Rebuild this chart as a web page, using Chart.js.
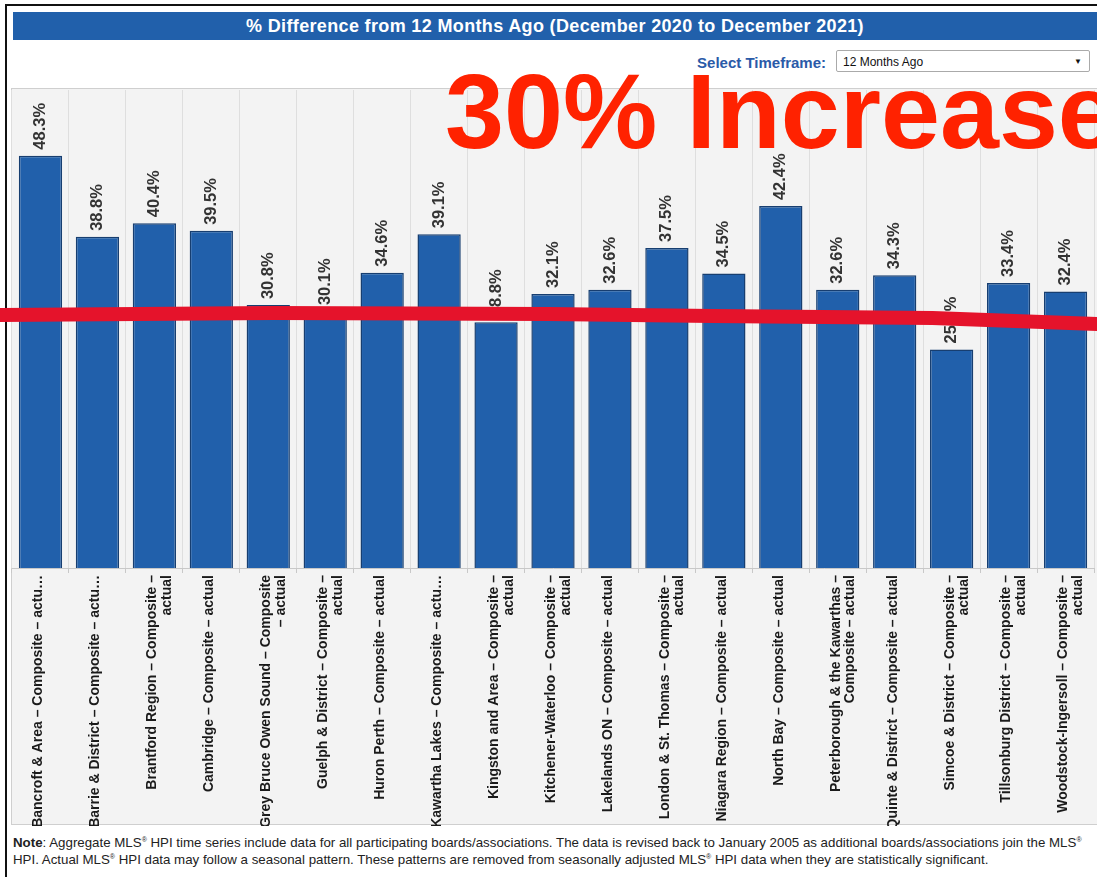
<!DOCTYPE html>
<html lang="en">
<head>
<meta charset="utf-8">
<script src="https://cdn.jsdelivr.net/npm/chart.js@4/dist/chart.umd.min.js"></script>
<style>
    html, body { margin: 0; padding: 0; background: #fff; }
    body { width: 1097px; height: 877px; position: relative; overflow: hidden;
           font-family: "Liberation Sans", Arial, sans-serif; }
    .frame-left { position: absolute; left: 5px; top: 4px; width: 2px; height: 873px; background: #111; }
    .frame-top { position: absolute; left: 5px; top: 4px; width: 1092px; height: 2px; background: #111; }
    .title { position: absolute; left: 13px; top: 12px; width: 1084px; height: 28px; background: #2160ab;
             color: #fff; font-weight: bold; font-size: 18px; letter-spacing: 0.35px; line-height: 28px; text-align: center; }
    .tf-label { position: absolute; left: 640px; top: 54px; width: 186px; text-align: right;
                color: #2a5aa8; font-weight: bold; font-size: 15px; }
    .tf-select { position: absolute; left: 836px; top: 50px; width: 254px; height: 22px; border: 1px solid #aaa;
                 border-radius: 2px; background: #fff; font-size: 12px; line-height: 22px; box-sizing: border-box;
                 padding-left: 6px; color: #111; }
    .tf-select span { position: absolute; right: 7px; top: 0; font-size: 8px; }
    #chart-wrap { position: absolute; left: 0; top: 86px; width: 1097px; height: 740px; }
    .big-note { position: absolute; left: 445px; top: 58px; font-size: 106px; line-height: 1; font-weight: bold;
                color: #ff2200; white-space: nowrap; }
    .note { position: absolute; left: 13px; top: 834px; width: 1084px; font-size: 13.3px; line-height: 17px; color: #222;
            white-space: nowrap; }
    .note sup { font-size: 7px; line-height: 0; vertical-align: 5px; }
</style>
</head>
<body>

<div class="frame-left"></div>
<div class="frame-top"></div>
<div class="title">% Difference from 12 Months Ago (December 2020 to December 2021)</div>
<div class="tf-label">Select Timeframe:</div>
<div class="tf-select">12 Months Ago<span>&#9660;</span></div>

<div id="chart-wrap"><canvas id="hpi-change" width="1097" height="740"></canvas></div>

<div class="big-note">30% Increase</div>

<div class="note"><b>Note</b>: Aggregate MLS<sup>&reg;</sup> HPI time series include data for all participating boards/associations. The data is revised back to January 2005 as additional boards/associations join the MLS<sup>&reg;</sup><br>HPI. Actual MLS<sup>&reg;</sup> HPI data may follow a seasonal pattern. These patterns are removed from seasonally adjusted MLS<sup>&reg;</sup> HPI data when they are statistically significant.</div>

<script>
    // board names, split the way the axis wraps them
    const boards = [
        "Bancroft & Area – Composite – actu…",
        "Barrie & District – Composite – actu…",
        ["Brantford Region – Composite –", "actual"],
        "Cambridge – Composite – actual",
        ["Grey Bruce Owen Sound – Composite", "– actual"],
        ["Guelph & District – Composite –", "actual"],
        "Huron Perth – Composite – actual",
        "Kawartha Lakes – Composite – actu…",
        ["Kingston and Area – Composite –", "actual"],
        ["Kitchener-Waterloo – Composite –", "actual"],
        "Lakelands ON – Composite – actual",
        ["London & St. Thomas – Composite –", "actual"],
        "Niagara Region – Composite – actual",
        "North Bay – Composite – actual",
        ["Peterborough & the Kawarthas –", "Composite – actual"],
        "Quinte & District – Composite – actual",
        ["Simcoe & District – Composite –", "actual"],
        ["Tillsonburg District – Composite –", "actual"],
        ["Woodstock-Ingersoll – Composite –", "actual"]
    ];
    const pctChange = [48.3, 38.8, 40.4, 39.5, 30.8, 30.1, 34.6, 39.1, 28.8, 32.1,
                       32.6, 37.5, 34.5, 42.4, 32.6, 34.3, 25.6, 33.4, 32.4];

    // hand-drawn red marker line: [fraction of width, % value]
    const markerLine = [[0, 29.64], [0.25, 29.87], [0.5, 29.76], [0.65, 29.52], [0.85, 29.29], [1, 28.58]];

    const plotBackground = {
        id: "plotBackground",
        beforeDraw(chart) {
            const ctx = chart.ctx;
            ctx.save();
            ctx.fillStyle = "#f3f3f3";
            ctx.fillRect(11, 2, chart.width - 11, chart.height - 3);
            ctx.strokeStyle = "#cfcfcf";
            ctx.lineWidth = 1;
            ctx.strokeRect(11.5, 2.5, chart.width - 11, chart.height - 4);
            ctx.restore();
        }
    };

    const valueLabels = {
        id: "valueLabels",
        afterDatasetsDraw(chart) {
            const ctx = chart.ctx;
            const meta = chart.getDatasetMeta(0);
            ctx.save();
            ctx.font = "bold 16.5px 'Liberation Sans', Arial, sans-serif";
            ctx.fillStyle = "#333";
            ctx.textAlign = "left";
            ctx.textBaseline = "middle";
            meta.data.forEach((bar, i) => {
                ctx.save();
                ctx.translate(bar.x, bar.y - 6);
                ctx.rotate(-Math.PI / 2);
                ctx.fillText(pctChange[i].toFixed(1) + "%", 0, 0);
                ctx.restore();
            });
            ctx.restore();
        }
    };

    const marker = {
        id: "marker",
        afterDraw(chart) {
            const ctx = chart.ctx;
            const y = chart.scales.y;
            ctx.save();
            ctx.strokeStyle = "#e5132b";
            ctx.lineWidth = 14;
            ctx.lineCap = "round";
            ctx.lineJoin = "round";
            ctx.beginPath();
            markerLine.forEach(([f, v], i) => {
                const px = f * chart.width;
                const py = y.getPixelForValue(v);
                if (i === 0) ctx.moveTo(px - 4, py); else ctx.lineTo(px + (f === 1 ? 4 : 0), py);
            });
            ctx.stroke();
            ctx.restore();
        }
    };

    new Chart("hpi-change", {
        type: "bar",
        data: {
            labels: boards,
            datasets: [{
                data: pctChange,
                backgroundColor: "#2160ab",
                borderColor: "#173e70",
                borderWidth: 1.5,
                categoryPercentage: 1,
                barPercentage: 0.76
            }]
        },
        options: {
            responsive: false,
            devicePixelRatio: 1,
            animation: false,
            layout: { padding: { left: 12, right: 2, top: 4, bottom: 0 } },
            plugins: { legend: { display: false }, tooltip: { enabled: false } },
            scales: {
                x: {
                    grid: { color: "#dedede", tickColor: "#c8c8c8", tickLength: 5, offset: true },
                    border: { color: "#c8c8c8" },
                    ticks: {
                        minRotation: 90,
                        maxRotation: 90,
                        autoSkip: false,
                        padding: 2,
                        labelOffset: -2,
                        color: "#1a1a1a",
                        font: { family: "'Liberation Sans', Arial, sans-serif", size: 14, weight: "bold", lineHeight: 1.05 }
                    },
                    afterFit(scale) { scale.height = 258; }
                },
                y: { display: false, min: 0, max: 56 }
            }
        },
        plugins: [plotBackground, valueLabels, marker]
    });
</script>

</body>
</html>
